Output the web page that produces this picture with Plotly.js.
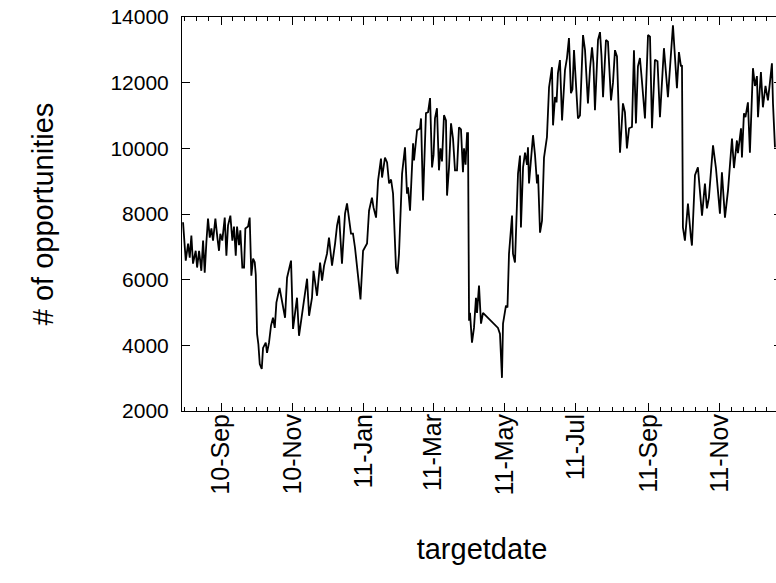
<!DOCTYPE html>
<html>
<head>
<meta charset="utf-8">
<script src="https://cdn.plot.ly/plotly-3.0.1.min.js"></script>
<style>html,body{margin:0;padding:0;overflow:hidden;background:#fff}</style>
</head>
<body>
<div id="chart"></div>
<script>
// Series start (day 0) and day offsets of each observation
const startDate = [2010, 6, 30, 14]; // 2010-07-30 14:00 (month is 0-based)
const dayOffsets = [
0,2.3,4.3,5.7,7.1,8.5,10.8,12.0,13.7,15.6,
17.1,18.5,19.9,21.3,22.8,24.2,25.6,27.6,29.3,30.7,
31.8,33.5,35.6,37.0,38.4,40.4,42.1,43.5,45.0,46.1,
47.8,48.9,50.6,52.1,53.2,55.5,56.9,58.3,59.8,61.2,
62.1,63.2,64.3,65.5,67.2,68.3,70.6,71.7,73.4,75.1,
76.8,78.3,79.7,82.4,87.1,88.8,92.2,93.9,97.3,99.0,
102.4,105.9,107.6,110.1,111.4,114.4,117.0,118.7,120.4,122.9,
124.6,127.2,129.8,131.5,133.2,135.7,138.3,140.0,143.4,145.1,
146.8,148.5,150.3,151.5,153.7,157.1,158.8,161.3,162.6,164.8,
166.5,169.0,169.9,172.4,174.2,175.9,177.6,179.3,181.8,183.1,
184.4,187.0,189.5,191.2,192.1,193.8,196.4,197.2,198.9,199.8,
202.3,203.2,204.9,207.4,209.2,210.9,212.6,213.9,215.1,216.8,
218.5,219.8,221.1,222.8,224.5,225.4,227.1,228.8,230.5,232.2,
233.9,235.6,237.3,239.0,239.9,241.2,242.5,243.3,244.2,245.0,
246.7,248.4,250.1,251.0,252.7,254.4,256.1,268.9,270.6,272.3,
273.2,275.7,277.0,278.3,280.9,281.7,283.4,285.1,286.0,287.7,
288.5,290.3,292.0,293.7,294.5,295.4,297.1,298.8,300.5,302.2,
303.1,304.8,306.5,308.2,310.7,312.5,315.0,315.9,317.6,318.9,
320.1,321.8,323.6,324.8,326.1,327.8,329.5,331.2,332.5,333.8,
335.9,337.2,338.9,341.5,343.2,345.7,347.5,349.2,350.4,351.7,
354.3,356.0,357.3,358.6,361.1,362.8,365.4,367.1,368.8,370.5,
373.1,374.8,375.6,377.3,379.0,380.8,383.3,385.0,386.7,388.4,
390.1,391.8,394.4,397.0,398.7,400.4,402.9,405.1,407.2,410.6,
414.0,418.3,421.7,423.4,425.1,426.0,426.8,428.5,431.1,433.6,
434.5,437.1,439.6,443.1,445.6,447.3,449.0,452.5,455.0,458.4,
460.1,462.7,465.3,468.7,470.4,472.9,473.8,476.4,477.2,478.9,
480.2,482.3,484.0,486.6,488.3,490.0,490.9,493.4,495.1,497.3,
499.4,501.1,502.8,503.7,505.4
];
const opportunities = [
7750,6580,7100,6670,7340,6490,6880,6370,6880,6270,
7190,6210,7130,7860,7280,7560,7190,7860,7280,6880,
7400,7190,7890,6730,7650,7950,7190,7620,6730,7620,
7050,7500,6370,6370,7560,7620,7890,6120,6640,6530,
6150,4350,4040,3430,3280,3920,4080,3770,4080,4600,
4840,4530,5300,5750,4840,6060,6580,4500,5450,4290,
5150,6030,4900,5450,6270,5510,6520,5970,6430,6790,
7280,6430,7100,7650,7950,6490,8010,8320,7400,7400,
6980,6490,5820,5400,6880,7100,8100,8500,8200,7890,
9020,9690,9110,9720,9570,8930,9050,8620,6370,6180,
6790,9230,10030,8620,8810,8100,10150,9630,10240,10550,
10600,10910,8410,11070,11100,11530,9420,9800,10910,11220,
9330,10000,9600,11010,10850,8560,9420,10760,10300,9330,
9330,10640,10580,9270,10000,9500,10460,10460,4750,4990,
4080,4530,5450,4990,5820,4660,4990,4530,4350,3010,
4660,5210,5150,6790,7950,6790,6520,8810,9230,9780,
7590,9420,9870,9500,10030,8930,9600,10400,9800,8930,
9200,7430,7800,9720,10340,11860,12470,10700,11560,11400,
12290,12690,10850,11450,12380,12750,13360,11680,11800,12990,
11900,10910,11000,13450,13000,11370,12440,13080,12600,11160,
13300,13540,12800,11560,13300,13250,11460,12000,12990,12800,
9870,11000,11370,11100,10000,10610,10650,12990,10760,12500,
12750,12050,10910,13450,13400,10610,12700,12650,10950,13050,
11560,13750,11830,12930,12500,12530,7590,7190,8320,7300,
7040,9180,9420,7950,8930,8170,8500,10090,9400,8010,
9270,7890,8720,10300,9400,10240,9850,10610,9720,11070,
10950,11400,9870,12440,11900,12200,10950,12320,11250,11900,
11460,12010,12590,11370,10030
];
const tickDates = ['2010-09-01','2010-11-01','2011-01-01','2011-03-01','2011-05-01','2011-07-01','2011-09-01','2011-11-01'];
const tickLabels = ['10-Sep','10-Nov','11-Jan','11-Mar','11-May','11-Jul','11-Sep','11-Nov'];
const yTicks = [2000,4000,6000,8000,10000,12000,14000];
const yTickLabels = ['2000','4000','6000','8000','10000','12000','14000'];
const xRangeDays = [-0.9, 511.4];
const yRange = [2000, 14000];

const t0 = Date.UTC(startDate[0], startDate[1], startDate[2], startDate[3]);
function dayToStr(d){
  return new Date(t0 + d*86400000).toISOString().replace('T',' ').slice(0,19);
}
const xDates = dayOffsets.map(dayToStr);

// minor ticks: 1st, 11th, 21st of each month
const minorTicks = [];
for (let y = 2010; y <= 2011; y++) {
  for (let m = 0; m < 12; m++) {
    [1, 11, 21].forEach(function(dd){
      minorTicks.push(y + '-' + String(m+1).padStart(2,'0') + '-' + String(dd).padStart(2,'0'));
    });
  }
}

const fam = 'Liberation Sans, Arial, sans-serif';
const xTickFont = {family: fam, size: 25, color: '#000'};
const yTickFont = {family: fam, size: 21, color: '#000'};
const titleFont = {family: fam, size: 29, color: '#000'};

const trace = {
  x: xDates,
  y: opportunities,
  type: 'scatter',
  mode: 'lines',
  line: {color: '#000', width: 1.8},
  hoverinfo: 'x+y'
};

const layout = {
  width: 786,
  height: 583,
  margin: {l: 182, r: 4, t: 17, b: 172},
  paper_bgcolor: '#fff',
  plot_bgcolor: '#fff',
  showlegend: false,
  font: yTickFont,
  xaxis: {
    type: 'date',
    range: [dayToStr(xRangeDays[0]), dayToStr(xRangeDays[1])],
    tickmode: 'array',
    tickvals: tickDates,
    ticktext: tickLabels,
    tickangle: -90,
    ticks: 'inside',
    ticklen: 8,
    tickwidth: 1,
    tickcolor: '#000',
    showline: true,
    linecolor: '#000',
    linewidth: 1,
    mirror: 'ticks',
    showgrid: false,
    zeroline: false,
    automargin: false,
    ticklabelstandoff: -8,
    tickfont: xTickFont,
    minor: {tickmode: 'array', tickvals: minorTicks, ticks: 'inside', ticklen: 4, tickwidth: 1, tickcolor: '#000', showgrid: false},
    title: {text: 'targetdate', font: titleFont, standoff: 44}
  },
  yaxis: {
    range: yRange,
    tickmode: 'array',
    tickvals: yTicks,
    ticktext: yTickLabels,
    ticks: 'inside',
    ticklen: 8,
    tickwidth: 1,
    tickcolor: '#000',
    showline: true,
    linecolor: '#000',
    linewidth: 1,
    mirror: 'ticks',
    showgrid: false,
    zeroline: false,
    automargin: false,
    ticklabelstandoff: 8,
    tickfont: yTickFont,
    title: {text: '# of opportunities', font: titleFont, standoff: 48}
  }
};

Plotly.newPlot('chart', [trace], layout, {displayModeBar: false, staticPlot: true});
</script>
</body>
</html>
